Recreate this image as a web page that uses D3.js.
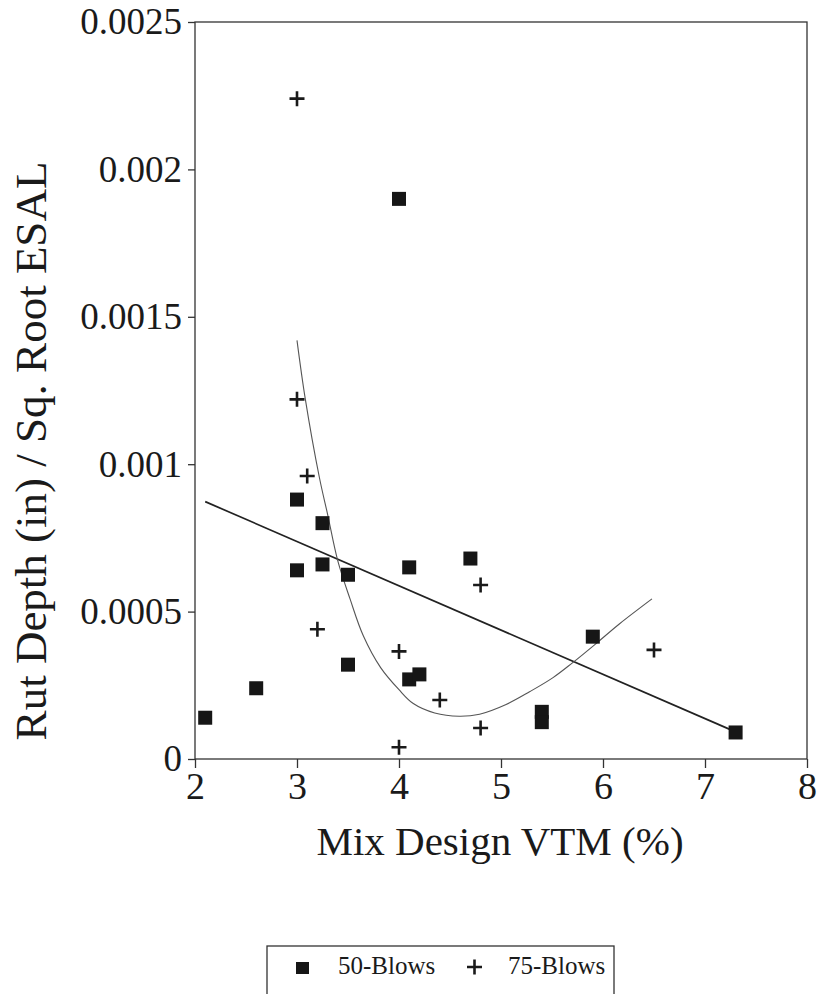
<html>
<head>
<script src="https://cdn.jsdelivr.net/npm/d3@7"></script>
<style>
    body { margin: 0; background: white; }
    text { font-family: "Liberation Serif", "Times New Roman", serif; fill: #1a1a1a; }
    .axis path, .axis line { stroke: #333; stroke-width: 1.3; }
</style>
</head>
<body>
<script>
// 50-Blows (squares)
var blows50X = [2.1, 2.6, 3.0, 3.0, 3.25, 3.25, 3.5, 3.5, 4.0, 4.1, 4.1, 4.2, 4.7, 5.4, 5.4, 5.9, 7.3];
var blows50Y = [0.00014, 0.00024, 0.00088, 0.00064, 0.0008, 0.00066, 0.000625, 0.00032, 0.0019, 0.00065, 0.00027, 0.000287, 0.00068, 0.00016, 0.000125, 0.000415, 0.00009];

// 75-Blows (plus)
var blows75X = [3.0, 3.0, 3.1, 3.2, 4.0, 4.0, 4.4, 4.8, 4.8, 6.5];
var blows75Y = [0.00224, 0.00122, 0.00096, 0.00044, 0.000365, 0.00004, 0.0002, 0.00059, 0.000105, 0.00037];

// straight trend line, read from its two ends
var trendX = [2.1, 7.3];
var trendY = [0.000873, 0.000092];

// curved fit, points
var curveX = [3.0, 3.08, 3.22, 3.3, 3.4, 3.52, 3.65, 3.82, 4.0, 4.14, 4.35, 4.59, 4.79, 5.05, 5.28, 5.51, 5.7, 5.93, 6.16, 6.48];
var curveY = [0.00142, 0.001224, 0.000954, 0.00083, 0.000672, 0.000543, 0.000418, 0.00031, 0.000235, 0.000188, 0.000156, 0.000145, 0.000152, 0.000185, 0.000228, 0.000276, 0.000326, 0.000391, 0.000458, 0.000543];

var xTicks = [2, 3, 4, 5, 6, 7, 8];
var yTicks = [0, 0.0005, 0.001, 0.0015, 0.002, 0.0025];
var yTickLabels = ["0", "0.0005", "0.001", "0.0015", "0.002", "0.0025"];
var legendNames = ["50-Blows", "75-Blows"];

var width = 819, height = 994;
// plot box (note: "top" is taken by window.top, so use a plain object)
var box = {left: 195, right: 807, top: 22, bottom: 759};

var svg = d3.select("body").append("svg")
    .attr("width", width)
    .attr("height", height);

var x = d3.scaleLinear().domain([2, 8]).range([box.left, box.right]);
var y = d3.scaleLinear().domain([0, 0.0025]).range([box.bottom, box.top]);

// frame
svg.append("rect")
    .attr("x", box.left).attr("y", box.top)
    .attr("width", box.right - box.left).attr("height", box.bottom - box.top)
    .attr("fill", "none").attr("stroke", "#333").attr("stroke-width", 1.3);

// axes
var xAxis = svg.append("g")
    .attr("class", "axis")
    .attr("transform", "translate(0," + box.bottom + ")")
    .call(d3.axisBottom(x).tickValues(xTicks).tickSize(9).tickPadding(4).tickFormat(d3.format("d")));
xAxis.select(".domain").remove();
xAxis.selectAll("text")
    .attr("font-size", 38)
    .attr("font-family", "Liberation Serif")
    .attr("fill", "#1a1a1a");

var yAxis = svg.append("g")
    .attr("class", "axis")
    .attr("transform", "translate(" + box.left + ",0)")
    .call(d3.axisLeft(y).tickValues(yTicks).tickSize(7).tickPadding(6)
        .tickFormat(function(d, i) { return yTickLabels[i]; }));
yAxis.select(".domain").remove();
yAxis.selectAll("text")
    .attr("font-size", 37)
    .attr("font-family", "Liberation Serif")
    .attr("fill", "#1a1a1a");

// axis titles
svg.append("text")
    .attr("x", 500).attr("y", 855)
    .attr("text-anchor", "middle")
    .attr("font-size", 41)
    .text("Mix Design VTM (%)");

svg.append("text")
    .attr("transform", "translate(46,451) rotate(-90)")
    .attr("text-anchor", "middle")
    .attr("font-size", 45)
    .text("Rut Depth (in) / Sq. Root ESAL");

// fitted lines
var line = d3.line()
    .x(function(d) { return x(d[0]); })
    .y(function(d) { return y(d[1]); });

svg.append("path")
    .datum(d3.zip(trendX, trendY))
    .attr("d", line)
    .attr("fill", "none").attr("stroke", "#222").attr("stroke-width", 1.7);

svg.append("path")
    .datum(d3.zip(curveX, curveY))
    .attr("d", line.curve(d3.curveCatmullRom.alpha(0.5)))
    .attr("fill", "none").attr("stroke", "#555").attr("stroke-width", 1.1);

// markers
var sq = 14;
svg.append("g").selectAll("rect")
    .data(d3.zip(blows50X, blows50Y))
    .join("rect")
    .attr("x", function(d) { return x(d[0]) - sq / 2; })
    .attr("y", function(d) { return y(d[1]) - sq / 2; })
    .attr("width", sq).attr("height", sq)
    .attr("fill", "#161616");

var pl = 7.5;
svg.append("g").selectAll("path")
    .data(d3.zip(blows75X, blows75Y))
    .join("path")
    .attr("d", function(d) {
        var cx = x(d[0]), cy = y(d[1]);
        return "M" + (cx - pl) + "," + cy + "H" + (cx + pl) + "M" + cx + "," + (cy - pl) + "V" + (cy + pl);
    })
    .attr("stroke", "#1a1a1a").attr("stroke-width", 2.6).attr("fill", "none");

// legend
var lg = svg.append("g");
lg.append("rect")
    .attr("x", 267).attr("y", 946)
    .attr("width", 347).attr("height", 60)
    .attr("fill", "white").attr("stroke", "#333").attr("stroke-width", 1.3);
lg.append("rect")
    .attr("x", 296).attr("y", 962).attr("width", 13).attr("height", 12)
    .attr("fill", "#161616");
lg.append("text")
    .attr("x", 338).attr("y", 974)
    .attr("font-size", 25)
    .text(legendNames[0]);
lg.append("path")
    .attr("d", "M467,967H482M474.5,959.5V974.5")
    .attr("stroke", "#1a1a1a").attr("stroke-width", 2.6);
lg.append("text")
    .attr("x", 508).attr("y", 974)
    .attr("font-size", 25)
    .text(legendNames[1]);
</script>
</body>
</html>
